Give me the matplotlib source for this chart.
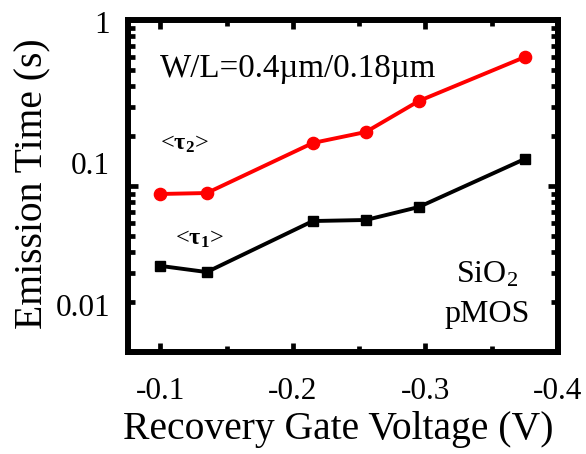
import matplotlib
matplotlib.use("Agg")
import numpy as np
import matplotlib.pyplot as plt
from matplotlib.ticker import FixedLocator, LogLocator, NullFormatter, FixedFormatter

plt.rcParams['font.family'] = ['Liberation Serif', 'DejaVu Serif']
plt.rcParams['mathtext.fontset'] = 'custom'
plt.rcParams['mathtext.rm'] = 'Liberation Serif'
plt.rcParams['mathtext.it'] = 'Liberation Serif:italic'
plt.rcParams['mathtext.bf'] = 'Liberation Serif:bold'

# data (y axis spans 0.01 .. 1 on the spine ticks)
voltage = [-0.1, -0.135, -0.215, -0.255, -0.295, -0.375]
tau2 = [0.0895, 0.0907, 0.1816, 0.2115, 0.325, 0.598]
tau1 = [0.0330, 0.0303, 0.0615, 0.0624, 0.0747, 0.1455]
xticks = [-0.1, -0.2, -0.3, -0.4]
xticklabels = ['-0.1', '-0.2', '-0.3', '-0.4']
yticks = [0.01, 0.1, 1]
yticklabels = ['0.01', '0.1', '1']

fig = plt.figure(figsize=(5.86, 4.54), dpi=100)
ax = fig.add_axes([0.2184, 0.2247, 0.7338, 0.7313])

ax.plot(voltage, tau2, color='#ff0000', lw=2.8, marker='o', ms=8.8, zorder=3)
ax.plot(voltage, tau1, color='black', lw=2.8, marker='s', ms=7.6, zorder=3)

ax.set_yscale('log')
ax.set_xlim(-0.0755, -0.4)
ax.set_ylim(0.01, 1)

ax.xaxis.set_major_locator(FixedLocator(xticks))
ax.xaxis.set_major_formatter(FixedFormatter(xticklabels))
ax.xaxis.set_minor_locator(FixedLocator([-0.15, -0.25, -0.35]))
ax.yaxis.set_major_locator(FixedLocator(yticks))
ax.yaxis.set_major_formatter(NullFormatter())
ax.yaxis.set_minor_locator(LogLocator(base=10, subs=range(2, 10), numticks=20))
ax.yaxis.set_minor_formatter(NullFormatter())

for s in ax.spines.values():
    s.set_linewidth(4.3)
ax.tick_params(which='both', direction='in', top=True, right=True, width=3.4)
ax.tick_params(axis='x', which='major', length=6.2, labelsize=22.5, pad=18)
ax.tick_params(axis='x', which='minor', length=4.0)
ax.tick_params(axis='y', which='major', length=7.2, labelleft=False)
ax.tick_params(axis='y', which='minor', length=4.7)

# tick labels of the y axis, placed as in the reference (offset from the spine ticks)
def fwd(y):
    return 10 ** ((166.0 * np.log10(y) + 2.0) / 141.5)

def inv(s):
    return 10 ** ((141.5 * np.log10(s) - 2.0) / 166.0)

sec = ax.secondary_yaxis('left', functions=(fwd, inv))
sec.set_yticks(yticks)
sec.set_yticklabels(yticklabels)
sec.minorticks_off()
sec.tick_params(which='both', length=0, labelsize=22.5, pad=13)
for s in sec.spines.values():
    s.set_visible(False)

ax.set_xlabel('Recovery Gate Voltage (V)', fontsize=28.5)
ax.xaxis.set_label_coords(0.4895, -0.178)
ax.set_ylabel('Emission Time (s)', fontsize=28.5)
ax.yaxis.set_label_coords(-0.178, 0.5075)

ax.text(0.0744, 0.828, 'W/L=0.4µm/0.18µm', transform=ax.transAxes, fontsize=23.8, va='baseline')
ax.text(0.074, 0.608, r'<$\mathbf{\tau_2}$>', transform=ax.transAxes, fontsize=17.5, va='baseline')
ax.text(0.109, 0.322, r'<$\mathbf{\tau_1}$>', transform=ax.transAxes, fontsize=17.5, va='baseline')
ax.text(0.835, 0.208, r'SiO$\mathregular{_2}$', transform=ax.transAxes, fontsize=23, ha='center', va='baseline')
ax.text(0.835, 0.090, 'pMOS', transform=ax.transAxes, fontsize=23, ha='center', va='baseline')

fig.savefig('out.png', dpi=100)
